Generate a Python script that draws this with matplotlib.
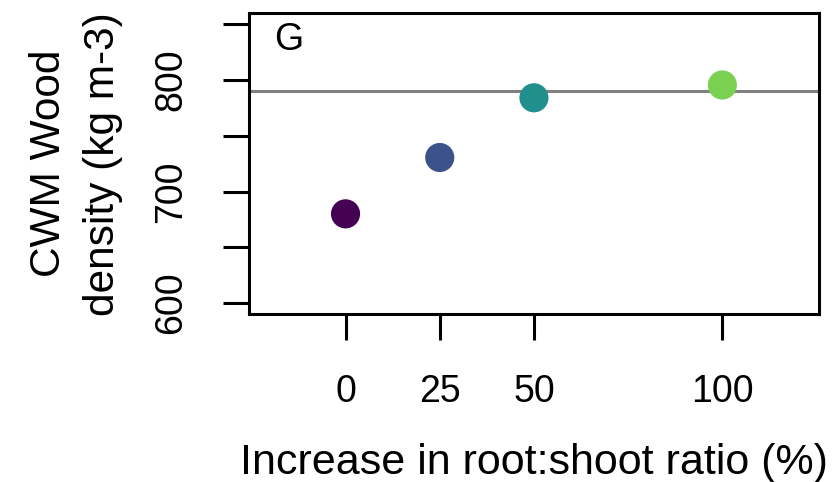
import matplotlib
matplotlib.use("Agg")
import matplotlib.pyplot as plt

# data
root_shoot = [0, 25, 50, 100]
wood_density = [680, 730.5, 784, 795.5]
point_colors = ["#440154", "#3B528B", "#21908C", "#7AD151"]
baseline = 790.5
y_ticks = [600, 650, 700, 750, 800, 850]
y_ticklabels = ["600", "", "700", "", "800", ""]

plt.rcParams['font.family'] = ['Liberation Sans', 'DejaVu Sans']

fig = plt.figure(figsize=(8.33, 4.82), dpi=100)
ax = fig.add_axes([0.299, 0.348, 0.684, 0.625])

ax.axhline(baseline, color="#808080", lw=2.2, zorder=1)
ax.scatter(root_shoot, wood_density, s=440, c=point_colors, edgecolors="none", zorder=2)

ax.set_xlim(-25.6, 125.6)
ax.set_ylim(590, 860)

ax.set_xticks(root_shoot)
ax.set_xticklabels([str(v) for v in root_shoot])
ax.set_yticks(y_ticks)
ax.set_yticklabels(y_ticklabels, rotation=90, va="center")

ax.tick_params(axis="both", direction="out", length=19, width=2.2, labelsize=27)
ax.tick_params(axis="x", pad=24)
ax.tick_params(axis="y", pad=24)
for s in ax.spines.values():
    s.set_linewidth(2.2)

ax.text(0.07, 0.91, "G", transform=ax.transAxes, fontsize=27, ha="center", va="center")

ax.set_xlabel("Increase in root:shoot ratio (%)", fontsize=31, labelpad=24)
ax.set_ylabel("CWM Wood\ndensity (kg m-3)", fontsize=30.5, labelpad=22, linespacing=1.46)

fig.savefig("out.png", dpi=100)
